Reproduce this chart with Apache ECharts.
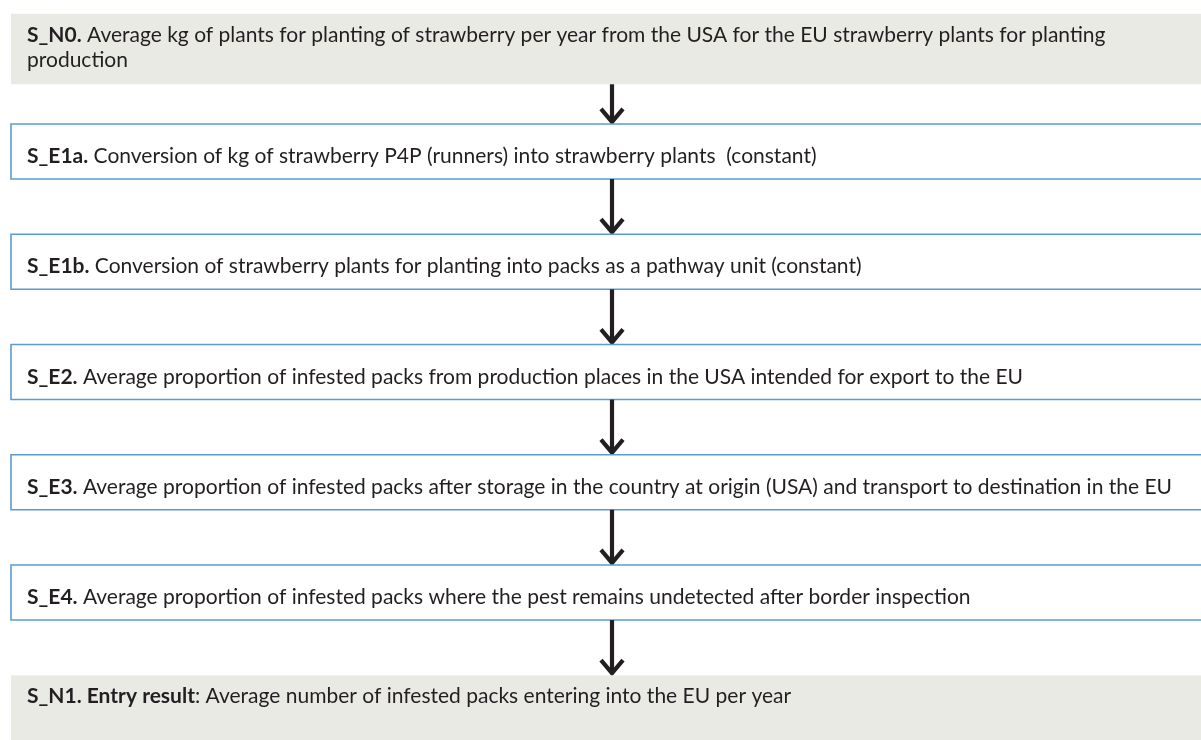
<!DOCTYPE html>
<html>
<head>
<meta charset="utf-8">
<script src="https://cdn.jsdelivr.net/npm/echarts@6/dist/echarts.min.js"></script>
<style>
  html, body { margin: 0; padding: 0; background: #fff; }
  #flow { width: 1201px; height: 740px; }
</style>
</head>
<body>
<div id="flow"></div>
<script>
// 流程步骤（从上到下）
const stepCodes = ['S_N0.', 'S_E1a.', 'S_E1b.', 'S_E2.', 'S_E3.', 'S_E4.', 'S_N1.'];
const stepHeads = ['', '', '', '', '', '', ' Entry result'];
const stepTexts = [
  ' Average kg of plants for planting of strawberry per year from the USA for the EU strawberry plants for planting\nproduction',
  ' Conversion of kg of strawberry P4P (runners) into strawberry plants  (constant)',
  ' Conversion of strawberry plants for planting into packs as a pathway unit (constant)',
  ' Average proportion of infested packs from production places in the USA intended for export to the EU',
  ' Average proportion of infested packs after storage in the country at origin (USA) and transport to destination in the EU',
  ' Average proportion of infested packs where the pest remains undetected after border inspection',
  ': Average number of infested packs entering into the EU per year'
];
// node = 灰色框, event = 蓝边框
const stepKinds = ['node', 'event', 'event', 'event', 'event', 'event', 'node'];

var myChart = echarts.init(document.getElementById('flow'), null, { renderer: 'canvas' });

const textColor = '#231f20';
const fontFamily = 'Lato, "Open Sans", sans-serif';

function renderStep(params, api) {
  const i = params.dataIndex;
  const left = api.coord([0, i]);
  const band = api.size([0, 1])[1];
  const isNode = stepKinds[i] === 'node';
  const top = left[1] - band * 0.25;
  const h = isNode ? band * 0.64 : band * 0.5;
  // 箭头在框的中线上，框的右边超出画面
  const mid = (left[0] + api.coord([1, i])[0] + 12) / 2;

  const children = [
    {
      type: 'rect',
      shape: { x: left[0], y: top, width: (mid - left[0]) * 2 + 40, height: h },
      style: isNode
        ? { fill: '#eaeae5' }
        : { fill: '#ffffff', stroke: '#5b9bd5', lineWidth: 1.6 }
    },
    {
      type: 'text',
      style: {
        x: left[0] + 16,
        y: top + (isNode ? 9 : 20),
        verticalAlign: 'top',
        text: '{b|' + stepCodes[i] + stepHeads[i] + '}' + stepTexts[i],
        fill: textColor,
        fontSize: 21,
        fontFamily: fontFamily,
        lineHeight: 25,
        rich: {
          b: { fontWeight: 'bold', fontSize: 21, fontFamily: fontFamily, fill: textColor, lineHeight: 25 }
        }
      }
    }
  ];

  // 箭头：连接到下一个步骤
  if (i < stepCodes.length - 1) {
    const nextTop = api.coord([0, i + 1])[1] - band * 0.25;
    const tip = nextTop - 1;
    children.push({
      type: 'line',
      shape: { x1: mid, y1: top + h, x2: mid, y2: tip - 2 },
      style: { stroke: textColor, lineWidth: 4.2 }
    });
    children.push({
      type: 'polyline',
      shape: { points: [[mid - 11, tip - 14], [mid, tip - 1], [mid + 11, tip - 14]] },
      style: { stroke: textColor, lineWidth: 4.2, fill: null, lineJoin: 'miter' }
    });
  }

  return { type: 'group', children: children };
}

option = {
  animation: false,
  grid: {
    top: 41.25,
    bottom: 37.25,
    left: 11,
    right: 0
  },
  xAxis: {
    type: 'value',
    min: 0,
    max: 1,
    show: false
  },
  yAxis: {
    type: 'category',
    data: stepCodes,
    inverse: true,
    boundaryGap: false,
    show: false
  },
  series: [
    {
      type: 'custom',
      renderItem: renderStep,
      clip: false,
      encode: { x: 0, y: 1 },
      data: stepCodes.map(function (c, i) { return [0, i]; })
    }
  ]
};

myChart.setOption(option);
</script>
</body>
</html>
